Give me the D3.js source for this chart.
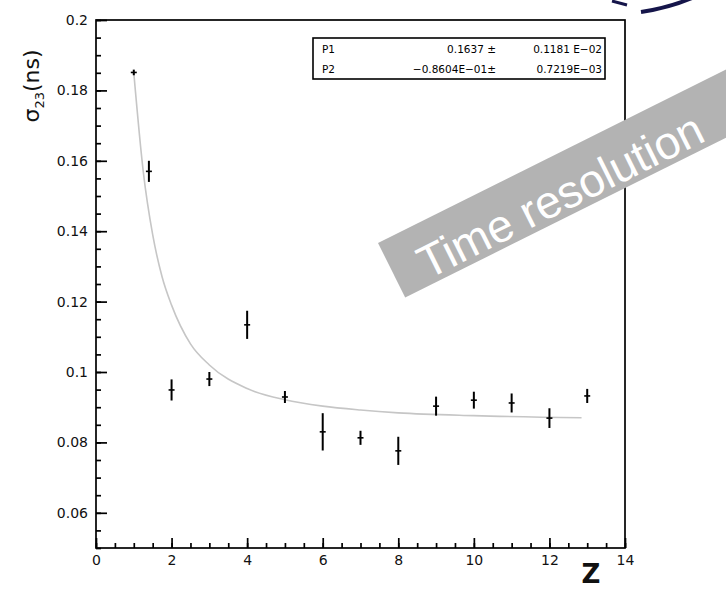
<!DOCTYPE html>
<html>
<head>
<meta charset="utf-8">
<script src="https://cdn.jsdelivr.net/npm/d3@7"></script>
<style>
    body { margin: 0; background: #fff; }
    text { font-family: "DejaVu Sans", Verdana, sans-serif; }
    .banner text { font-family: "Liberation Sans", Arial, Helvetica, sans-serif; }
</style>
</head>
<body>
<div id="chart-area"></div>
<script>

// measured points (Z, sigma_23 in ns, error)
var zValues = [1, 1.4, 2, 3, 4, 5, 6, 7, 8, 9, 10, 11, 12, 13];
var sigmaValues = [0.1851, 0.1570, 0.0949, 0.0980, 0.1134, 0.0929, 0.0830, 0.0813, 0.0776, 0.0903, 0.0920, 0.0912, 0.0869, 0.0932];
var sigmaErrors = [0.0008, 0.0030, 0.0030, 0.0020, 0.0040, 0.0017, 0.0053, 0.0020, 0.0040, 0.0027, 0.0024, 0.0027, 0.0028, 0.0020];

// fit curve
var fitZ = [1, 1.25, 1.5, 1.75, 2, 2.5, 3, 4, 5, 6, 7, 8, 10, 12.85];
var fitSigma = [0.185, 0.157, 0.139, 0.127, 0.119, 0.108, 0.102, 0.0953, 0.0921, 0.0903, 0.0892, 0.0884, 0.0876, 0.0870];

// fit parameter box
var parNames = ["P1", "P2"];
var parValues = ["0.1637 \u00b1", "\u22120.8604E\u221201\u00b1"];
var parErrors = ["0.1181 E\u221202", "0.7219E\u221203"];

var xTicks = [0, 2, 4, 6, 8, 10, 12, 14];
var yTicks = [0.06, 0.08, 0.1, 0.12, 0.14, 0.16, 0.18, 0.2];
var yTickLabels = ["0.06", "0.08", "0.1", "0.12", "0.14", "0.16", "0.18", "0.2"];


FitChart = function(_parentElement){
    this.parentElement = _parentElement;
    this.displayData = [];
    this.initVis();
};

FitChart.prototype.initVis = function(){
    var vis = this;

    vis.margin = { top: 20, right: 101, bottom: 41, left: 96 };
    vis.width = 726 - vis.margin.left - vis.margin.right;
    vis.height = 589 - vis.margin.top - vis.margin.bottom;

    vis.root = d3.select("#" + vis.parentElement).append("svg")
        .attr("width", 726)
        .attr("height", 589);

    vis.svg = vis.root.append("g")
        .attr("transform", "translate(" + vis.margin.left + "," + vis.margin.top + ")");

    // Scales
    vis.x = d3.scaleLinear().domain([0, 14]).range([0, vis.width]);
    vis.y = d3.scaleLinear().domain([0.05, 0.2]).range([vis.height, 0]);

    // minor ticks first
    vis.svg.append("g")
        .attr("class", "x-minor")
        .attr("transform", "translate(0," + vis.height + ")")
        .call(d3.axisBottom(vis.x).tickValues(d3.range(0, 14.01, 0.5)).tickSize(-5).tickFormat(""));

    vis.svg.append("g")
        .attr("class", "y-minor")
        .call(d3.axisLeft(vis.y).tickValues(d3.range(0.05, 0.2001, 0.005)).tickSize(-5).tickFormat(""));

    vis.xAxis = d3.axisBottom(vis.x)
        .tickValues(xTicks)
        .tickSize(-10)
        .tickPadding(7);

    vis.yAxis = d3.axisLeft(vis.y)
        .tickValues(yTicks)
        .tickSize(-11)
        .tickPadding(8)
        .tickFormat(function(d, i) { return yTickLabels[i]; });

    vis.svg.append("g")
        .attr("class", "x-axis axis")
        .attr("transform", "translate(0," + vis.height + ")")
        .call(vis.xAxis);

    vis.svg.append("g")
        .attr("class", "y-axis axis")
        .call(vis.yAxis);

    vis.svg.selectAll(".domain").remove();
    vis.svg.selectAll(".tick line").attr("stroke", "#000").attr("stroke-width", 1.7);
    vis.svg.selectAll(".axis .tick text")
        .attr("font-size", 14)
        .attr("font-family", "DejaVu Sans, sans-serif")
        .attr("fill", "#111");

    // axis titles
    var ylab = vis.root.append("text")
        .attr("transform", "translate(39,86) rotate(-90)")
        .attr("text-anchor", "middle")
        .attr("font-size", 22)
        .attr("fill", "#111");
    ylab.append("tspan").text("\u03c3");
    ylab.append("tspan").attr("font-size", 13).attr("dy", 5).text("23");
    ylab.append("tspan").attr("dy", -5).text("(ns)");

    vis.root.append("text")
        .attr("x", vis.margin.left + vis.x(13.1))
        .attr("y", 583)
        .attr("text-anchor", "middle")
        .attr("font-size", 26)
        .attr("font-weight", "bold")
        .attr("font-family", "Liberation Sans, Arial, sans-serif")
        .attr("fill", "#111")
        .text("Z");

    vis.wrangleData();
};

FitChart.prototype.wrangleData = function(){
    var vis = this;

    vis.displayData = zValues.map(function(z, i) {
        return { z: z, s: sigmaValues[i], e: sigmaErrors[i] };
    });
    vis.fitData = fitZ.map(function(z, i) {
        return { z: z, s: fitSigma[i] };
    });

    vis.updateVis();
};

FitChart.prototype.updateVis = function(){
    var vis = this;

    vis.line = d3.line()
        .x(function(d) { return vis.x(d.z); })
        .y(function(d) { return vis.y(d.s); })
        .curve(d3.curveMonotoneX);

    vis.svg.append("path")
        .datum(vis.fitData)
        .attr("class", "fit")
        .attr("d", vis.line)
        .attr("fill", "none")
        .attr("stroke", "#c6c6c6")
        .attr("stroke-width", 1.6);

    var pts = vis.svg.selectAll(".point")
        .data(vis.displayData)
        .enter()
        .append("g")
        .attr("class", "point");

    pts.append("line")
        .attr("x1", function(d) { return vis.x(d.z); })
        .attr("x2", function(d) { return vis.x(d.z); })
        .attr("y1", function(d) { return vis.y(d.s - d.e); })
        .attr("y2", function(d) { return vis.y(d.s + d.e); })
        .attr("stroke", "#000")
        .attr("stroke-width", 2);

    pts.append("line")
        .attr("x1", function(d) { return vis.x(d.z) - 3; })
        .attr("x2", function(d) { return vis.x(d.z) + 3; })
        .attr("y1", function(d) { return vis.y(d.s); })
        .attr("y2", function(d) { return vis.y(d.s); })
        .attr("stroke", "#000")
        .attr("stroke-width", 1.6);

    // grey banner
    var banner = vis.root.append("g")
        .attr("class", "banner")
        .attr("transform", "translate(378,243) rotate(-26.5)");
    banner.append("rect")
        .attr("width", 430)
        .attr("height", 61)
        .attr("fill", "#b3b3b3");
    banner.append("text")
        .attr("x", 28)
        .attr("y", 55)
        .attr("font-size", 46)
        .attr("fill", "#fff")
        .text("Time resolution");

    // frame on top
    vis.svg.append("rect")
        .attr("width", vis.width)
        .attr("height", vis.height)
        .attr("fill", "none")
        .attr("stroke", "#000")
        .attr("stroke-width", 1.7);

    // fit parameter box
    var box = vis.root.append("g").attr("transform", "translate(313,38)");
    box.append("rect")
        .attr("width", 292)
        .attr("height", 41)
        .attr("fill", "#fff")
        .attr("stroke", "#000")
        .attr("stroke-width", 1.6);

    parNames.forEach(function(name, i) {
        var yy = 15 + i * 20;
        box.append("text").attr("x", 9).attr("y", yy).attr("font-size", 10.5).text(name);
        box.append("text").attr("x", 183).attr("y", yy).attr("font-size", 10.5)
            .attr("text-anchor", "end").text(parValues[i]);
        box.append("text").attr("x", 289).attr("y", yy).attr("font-size", 10.5)
            .attr("text-anchor", "end").text(parErrors[i]);
    });

    // corner logo fragment
    vis.root.append("path")
        .attr("d", "M641,12 Q668,8 692,-2")
        .attr("fill", "none")
        .attr("stroke", "#15154a")
        .attr("stroke-width", 4);
    vis.root.append("path")
        .attr("d", "M612,1 L627,5")
        .attr("fill", "none")
        .attr("stroke", "#15154a")
        .attr("stroke-width", 3);
};

var chart = new FitChart("chart-area");

</script>
</body>
</html>
